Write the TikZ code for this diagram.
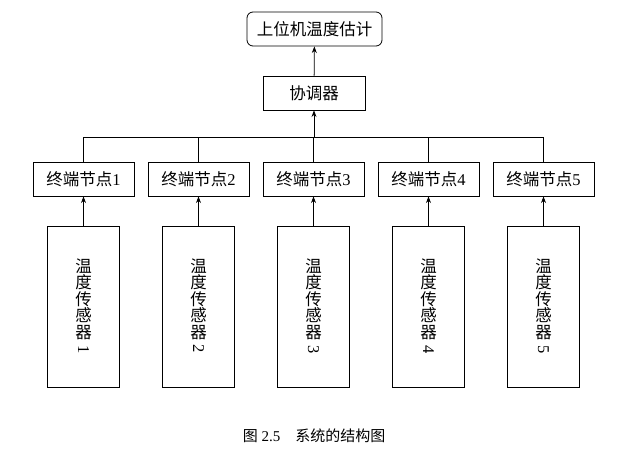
\documentclass[tikz,border=0pt]{standalone}
\usepackage{fontspec}
\usepackage{graphicx}
\newfontfamily\cjk{Noto Sans CJK SC}
\setmainfont{Liberation Serif}
\usetikzlibrary{arrows.meta}

\begin{document}
\begin{tikzpicture}[x=1pt,y=-1pt,line width=0.8pt,>=Stealth,
    box/.style={draw,inner sep=0pt,font=\fontsize{16.5}{16.5}\selectfont},
    termbox/.style={box,minimum width=101pt,minimum height=34pt},
    sensorbox/.style={box,minimum width=72pt,minimum height=161pt,align=center}]
    \useasboundingbox(0,0)rectangle(626,454);
    \node[box,rounded corners=6pt,minimum width=135pt,minimum height=34pt](host)at(314.5,29){\cjk 上位机温度估计};
    \node[box,minimum width=102pt,minimum height=34pt](coord)at(314,93){\cjk 协调器};
    \coordinate(bus)at(314,137);
    \coordinate(busL)at(83.5,137);
    \coordinate(busR)at(543.5,137);
    \draw[->](coord)--(host);
    \draw[->](bus)--(coord);
    \draw(busL)--(busR);
    \node[termbox](t1)at(83.5,179){{\cjk 终端节点}1};
    \node[termbox](t2)at(198.5,179){{\cjk 终端节点}2};
    \node[termbox](t3)at(313.5,179){{\cjk 终端节点}3};
    \node[termbox](t4)at(428.5,179){{\cjk 终端节点}4};
    \node[termbox](t5)at(543.5,179){{\cjk 终端节点}5};
    \node[sensorbox](s1)at(83.5,306.5){\cjk 温\\\cjk 度\\\cjk 传\\\cjk 感\\\cjk 器\\\rotatebox[origin=c]{-90}{1}};
    \node[sensorbox](s2)at(198.5,306.5){\cjk 温\\\cjk 度\\\cjk 传\\\cjk 感\\\cjk 器\\\rotatebox[origin=c]{-90}{2}};
    \node[sensorbox](s3)at(313.5,306.5){\cjk 温\\\cjk 度\\\cjk 传\\\cjk 感\\\cjk 器\\\rotatebox[origin=c]{-90}{3}};
    \node[sensorbox](s4)at(428.5,306.5){\cjk 温\\\cjk 度\\\cjk 传\\\cjk 感\\\cjk 器\\\rotatebox[origin=c]{-90}{4}};
    \node[sensorbox](s5)at(543.5,306.5){\cjk 温\\\cjk 度\\\cjk 传\\\cjk 感\\\cjk 器\\\rotatebox[origin=c]{-90}{5}};
    \draw(t1.north)--(t1.north|-bus);
    \draw(t2.north)--(t2.north|-bus);
    \draw(t3.north)--(t3.north|-bus);
    \draw(t4.north)--(t4.north|-bus);
    \draw(t5.north)--(t5.north|-bus);
    \draw[->](s1)--(t1);
    \draw[->](s2)--(t2);
    \draw[->](s3)--(t3);
    \draw[->](s4)--(t4);
    \draw[->](s5)--(t5);
    \node[font=\fontsize{15}{17}\selectfont](caption)at(314,436){{\cjk 图} 2.5\quad{\cjk 系统的结构图}};
  \end{tikzpicture}
\end{document}
